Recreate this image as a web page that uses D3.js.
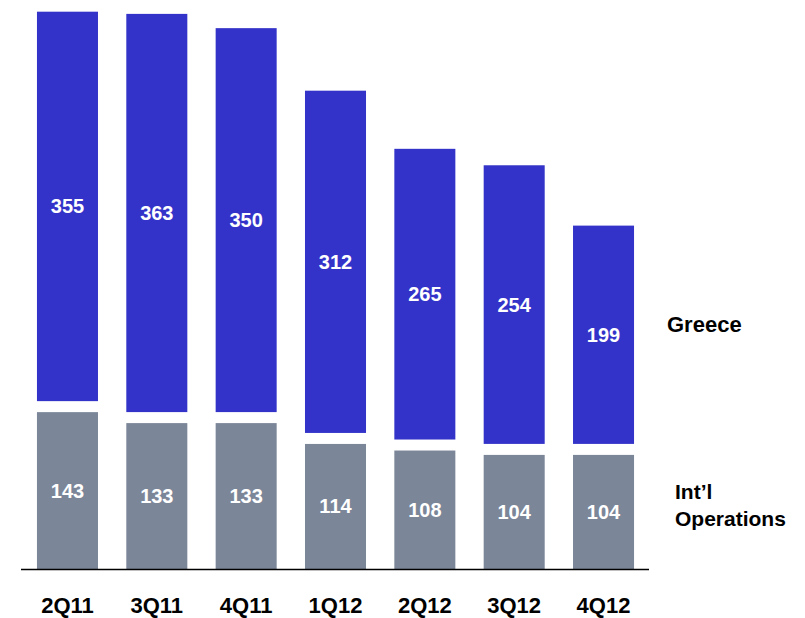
<!DOCTYPE html>
<html>
<head>
<meta charset="utf-8">
<script src="https://cdn.jsdelivr.net/npm/d3@7"></script>
<style>
  body { margin: 0; background: #fff; }
  text { font-family: "Liberation Sans", Arial, sans-serif; font-weight: bold; }
</style>
</head>
<body>
<div id="chart"></div>
<script>
// chart data
let quarters = ["2Q11", "3Q11", "4Q11", "1Q12", "2Q12", "3Q12", "4Q12"];
let intlOps = [143, 133, 133, 114, 108, 104, 104];
let greece = [355, 363, 350, 312, 265, 254, 199];
let seriesNames = ["Int\u2019l", "Operations"];

let width = 805, height = 618;
let baseY = 569, gap = 11;

let svg = d3.select("#chart").append("svg")
    .attr("width", width)
    .attr("height", height);

// scales
let x = d3.scaleBand()
    .domain(quarters)
    .range([22.8, 648.2])
    .paddingInner(0.317)
    .paddingOuter(0.1585);

let y = d3.scaleLinear()
    .domain([0, 500])
    .range([baseY, baseY - 500 * 1.097]);

let rows = quarters.map((q, i) => ({q: q, intl: intlOps[i], greece: greece[i]}));

// grey bars (Int'l Operations)
svg.selectAll(".intl")
    .data(rows)
    .enter().append("rect")
    .attr("class", "intl")
    .attr("x", d => x(d.q))
    .attr("width", x.bandwidth())
    .attr("y", d => y(d.intl))
    .attr("height", d => y(0) - y(d.intl))
    .attr("fill", "#7b8699");

// blue bars (Greece), stacked with white gap
svg.selectAll(".greece")
    .data(rows)
    .enter().append("rect")
    .attr("class", "greece")
    .attr("x", d => x(d.q))
    .attr("width", x.bandwidth())
    .attr("y", d => y(d.intl + d.greece) - gap)
    .attr("height", d => y(d.intl) - y(d.intl + d.greece))
    .attr("fill", "#3333c9");

// value labels
svg.selectAll(".lblIntl")
    .data(rows)
    .enter().append("text")
    .attr("x", d => x(d.q) + x.bandwidth() / 2)
    .attr("y", d => (y(0) + y(d.intl)) / 2)
    .attr("dy", "0.35em")
    .attr("text-anchor", "middle")
    .attr("font-size", 20)
    .attr("fill", "#fff")
    .text(d => d.intl);

svg.selectAll(".lblGreece")
    .data(rows)
    .enter().append("text")
    .attr("x", d => x(d.q) + x.bandwidth() / 2)
    .attr("y", d => (y(d.intl) + y(d.intl + d.greece)) / 2 - gap)
    .attr("dy", "0.35em")
    .attr("text-anchor", "middle")
    .attr("font-size", 20)
    .attr("fill", "#fff")
    .text(d => d.greece);

// baseline
svg.append("line")
    .attr("x1", 21).attr("x2", 649)
    .attr("y1", baseY + 0.5).attr("y2", baseY + 0.5)
    .attr("stroke", "#000")
    .attr("stroke-width", 1.5);

// category labels
svg.selectAll(".cat")
    .data(quarters)
    .enter().append("text")
    .attr("x", d => x(d) + x.bandwidth() / 2)
    .attr("y", 613)
    .attr("text-anchor", "middle")
    .attr("font-size", 22)
    .attr("fill", "#000")
    .text(d => d);

// series labels on the right
svg.append("text")
    .attr("x", 667).attr("y", 332)
    .attr("font-size", 22)
    .attr("fill", "#000")
    .text("Greece");

svg.selectAll(".ser")
    .data(seriesNames)
    .enter().append("text")
    .attr("x", 675)
    .attr("y", (d, i) => 499 + i * 27)
    .attr("font-size", 21)
    .attr("fill", "#000")
    .text(d => d);
</script>
</body>
</html>
